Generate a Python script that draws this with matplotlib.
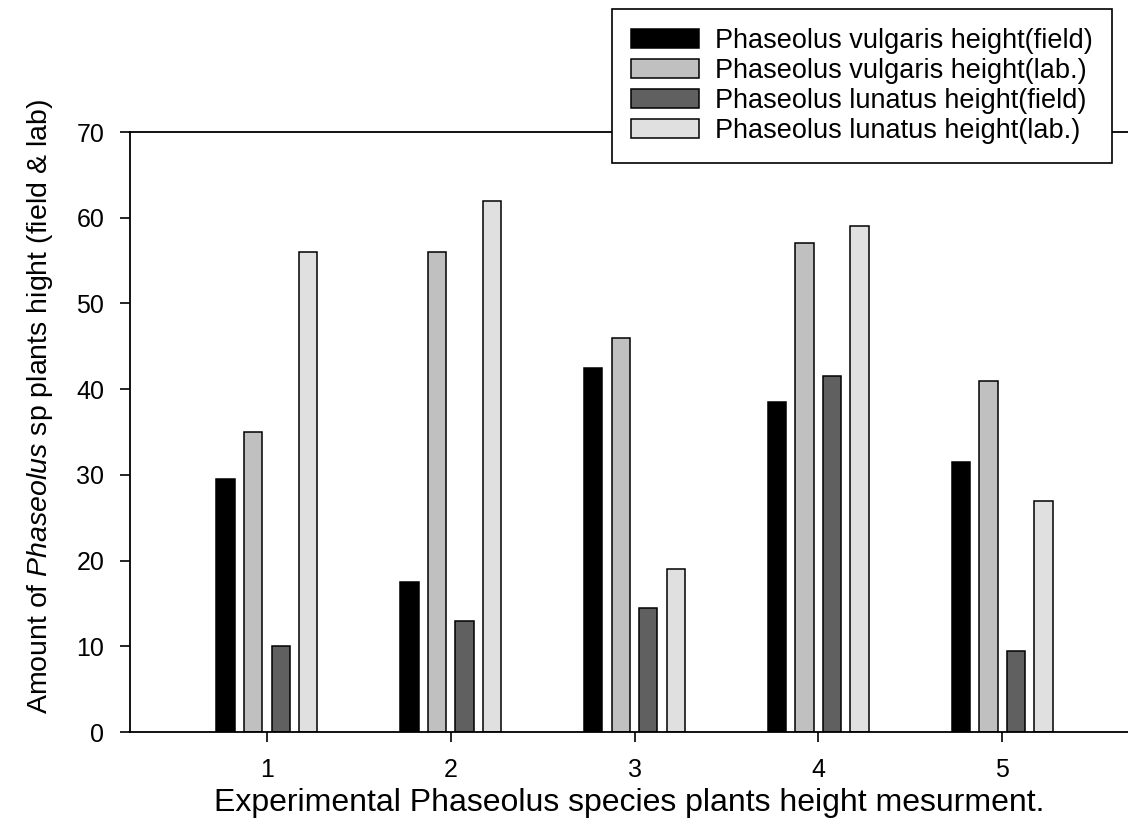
import numpy as np
import matplotlib
matplotlib.use('Agg')
import matplotlib.pyplot as plt

# data
measurements = [1, 2, 3, 4, 5]
series_names = ['Phaseolus vulgaris height(field)',
                'Phaseolus vulgaris height(lab.)',
                'Phaseolus lunatus height(field)',
                'Phaseolus lunatus height(lab.)']
vulgaris_field = [29.5, 17.5, 42.5, 38.5, 31.5]
vulgaris_lab = [35, 56, 46, 57, 41]
lunatus_field = [10, 13, 14.5, 41.5, 9.5]
lunatus_lab = [56, 62, 19, 59, 27]
y_ticks = [0, 10, 20, 30, 40, 50, 60, 70]

colors = ['#000000', '#c0c0c0', '#606060', '#e0e0e0']

plt.rcParams['font.family'] = ['Liberation Sans', 'DejaVu Sans']
plt.rcParams['mathtext.fontset'] = 'custom'
plt.rcParams['mathtext.rm'] = 'Liberation Sans'
plt.rcParams['mathtext.it'] = 'Liberation Sans:italic'

W, H = 1128, 839
fig = plt.figure(figsize=(W / 100, H / 100), dpi=100)
ax = fig.add_axes([130 / W, 1 - 732 / H, 998 / W, 600 / H])

x = np.array(measurements, dtype=float)
width = 0.1
offsets = [-0.225, -0.075, 0.075, 0.225]
all_series = [vulgaris_field, vulgaris_lab, lunatus_field, lunatus_lab]
handles = []
for vals, off, col, name in zip(all_series, offsets, colors, series_names):
    b = ax.bar(x + off, vals, width, color=col, edgecolor='black',
               linewidth=1.1, label=name)
    handles.append(b)

ax.set_xlim(0.255, 5.685)
ax.set_ylim(0, 70)
ax.set_xticks(measurements)
ax.set_yticks(y_ticks)
ax.tick_params(axis='both', direction='out', labelsize=18, width=1.2)
ax.tick_params(axis='y', length=7.5, pad=11)
ax.tick_params(axis='x', length=7, pad=12)
ax.spines['right'].set_visible(False)
for s in ['left', 'bottom', 'top']:
    ax.spines[s].set_linewidth(1.3)

ax.set_xlabel('Experimental Phaseolus species plants height mesurment.',
              fontsize=23, labelpad=4)
ax.set_ylabel(r'Amount of $\mathit{Phaseolus}$ sp plants hight (field & lab)',
              fontsize=20.5)
ax.yaxis.set_label_coords(-0.075, 0.542)

leg = fig.legend(handles, series_names, loc='upper left',
                 bbox_to_anchor=(612 / W, 1 - 9 / H), bbox_transform=fig.transFigure,
                 borderaxespad=0, fancybox=False, framealpha=1, edgecolor='black',
                 fontsize=19.5, handlelength=2.5, handleheight=0.7,
                 handletextpad=0.6, labelspacing=0.15, borderpad=0.7)
leg.get_frame().set_linewidth(1.2)

fig.savefig('out.png', dpi=100)
